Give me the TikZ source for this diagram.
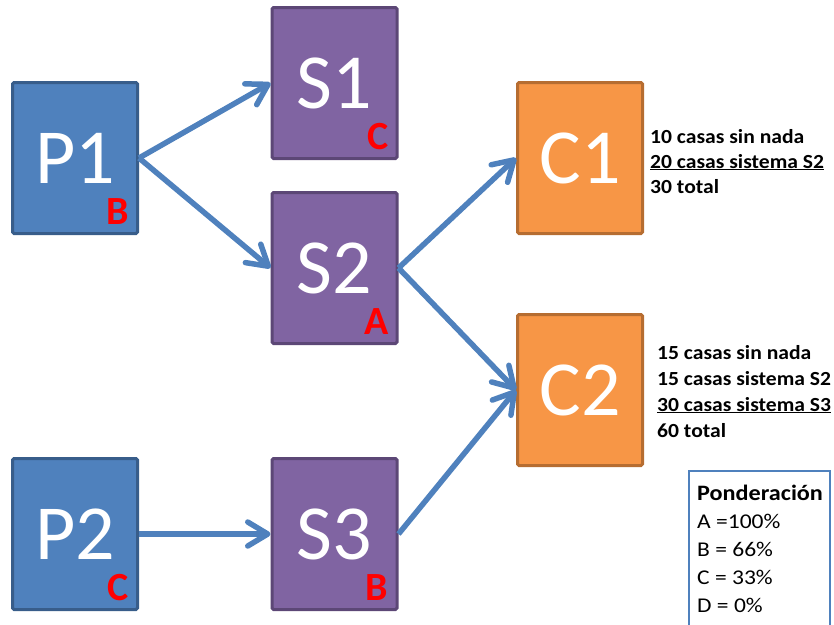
\documentclass[tikz,border=0pt]{standalone}
\usepackage{fontspec}
\usepackage{graphicx}
\setmainfont{Carlito}
\usetikzlibrary{arrows.meta,calc}
\definecolor{pfill}{HTML}{4F81BD}
\definecolor{pline}{HTML}{385D8A}
\definecolor{sfill}{HTML}{8064A2}
\definecolor{sline}{HTML}{5C4776}
\definecolor{cfill}{HTML}{F79646}
\definecolor{cline}{HTML}{B66D31}
\definecolor{arrowblue}{HTML}{4F81BD}
\definecolor{tagred}{HTML}{FF0000}
\newcommand{\wideinfo}[1]{\scalebox{1.08}[1]{#1}}
\newcommand{\widepond}[1]{\scalebox{1.1}[1]{#1}}
\newcommand{\widereg}[1]{\scalebox{1.12}[1]{#1}}
\begin{document}
\begin{tikzpicture}[x=1pt,y=-1pt,
  box/.style={draw, line width=3pt, rounded corners=1.5pt, minimum width=125pt, minimum height=151pt,
    inner sep=0pt, text=white, font=\fontsize{78}{78}\selectfont},
  pbox/.style={box, fill=pfill, draw=pline},
  sbox/.style={box, fill=sfill, draw=sline},
  cbox/.style={box, fill=cfill, draw=cline},
  tag/.style={text=tagred, font=\fontsize{40}{40}\selectfont\bfseries, inner sep=0pt, anchor=base east},
  conn/.style={draw=arrowblue, line width=5.5pt, -{Straight Barb[length=20pt,width=24pt,round]}},
  info/.style={anchor=base west, inner sep=0pt, font=\fontsize{20}{20}\selectfont\bfseries},
  pondhead/.style={anchor=base west, inner sep=0pt, font=\fontsize{22}{22}\selectfont\bfseries},
  pond/.style={anchor=base west, inner sep=0pt, font=\fontsize{21}{21}\selectfont}
]
\useasboundingbox (0,0) rectangle (834,624);
\clip (0,0) rectangle (834,624);

% boxes
\node[pbox] (P1) at (75,158) {P1};
\node[pbox] (P2) at (75,534) {P2};
\node[sbox] (S1) at (334.5,83) {S1};
\node[sbox] (S2) at (334.5,268) {S2};
\node[sbox] (S3) at (334.5,534) {S3};
\node[cbox] (C1) at (580,158) {C1};
\node[cbox] (C2) at (580,390) {C2};

% tags
\node[tag] (tP1) at ($(P1.south east)+(-10,-11)$) {B};
\node[tag] (tP2) at ($(P2.south east)+(-10,-11)$) {C};
\node[tag] (tS1) at ($(S1.south east)+(-10,-11)$) {C};
\node[tag] (tS2) at ($(S2.south east)+(-10,-11)$) {A};
\node[tag] (tS3) at ($(S3.south east)+(-10,-11)$) {B};

% connectors
\draw[conn] (P1.east) -- (S1.west);
\draw[conn] (P1.east) -- (S2.west);
\draw[conn] (S2.east) -- (C1.west);
\draw[conn] (S2.east) -- (C2.west);
\draw[conn] (P2.east) -- (S3.west);
\draw[conn] (S3.east) -- (C2.west);

% C1 info
\node[info] (c1a) at (650,143) {\wideinfo{10 casas sin nada}};
\node[info] (c1b) at (650,168) {\wideinfo{\underline{20 casas sistema S2}}};
\node[info] (c1c) at (650,193) {\wideinfo{30 total}};

% C2 info
\node[info] (c2a) at (657,359) {\wideinfo{15 casas sin nada}};
\node[info] (c2b) at (657,385) {\wideinfo{15 casas sistema S2}};
\node[info] (c2c) at (657,411) {\wideinfo{\underline{30 casas sistema S3}}};
\node[info] (c2d) at (657,437) {\wideinfo{60 total}};

% Ponderacion box
\draw[draw=arrowblue, line width=1.5pt] (689,471) rectangle (830,640);
\node[pondhead] (pn) at (697,500) {\widepond{Ponderación}};
\node[pond] (pa) at (697,528) {\widereg{A =100\%}};
\node[pond] (pb) at (697,556) {\widereg{B = 66\%}};
\node[pond] (pc) at (697,584) {\widereg{C = 33\%}};
\node[pond] (pd) at (697,612) {\widereg{D = 0\%}};
\end{tikzpicture}
\end{document}
